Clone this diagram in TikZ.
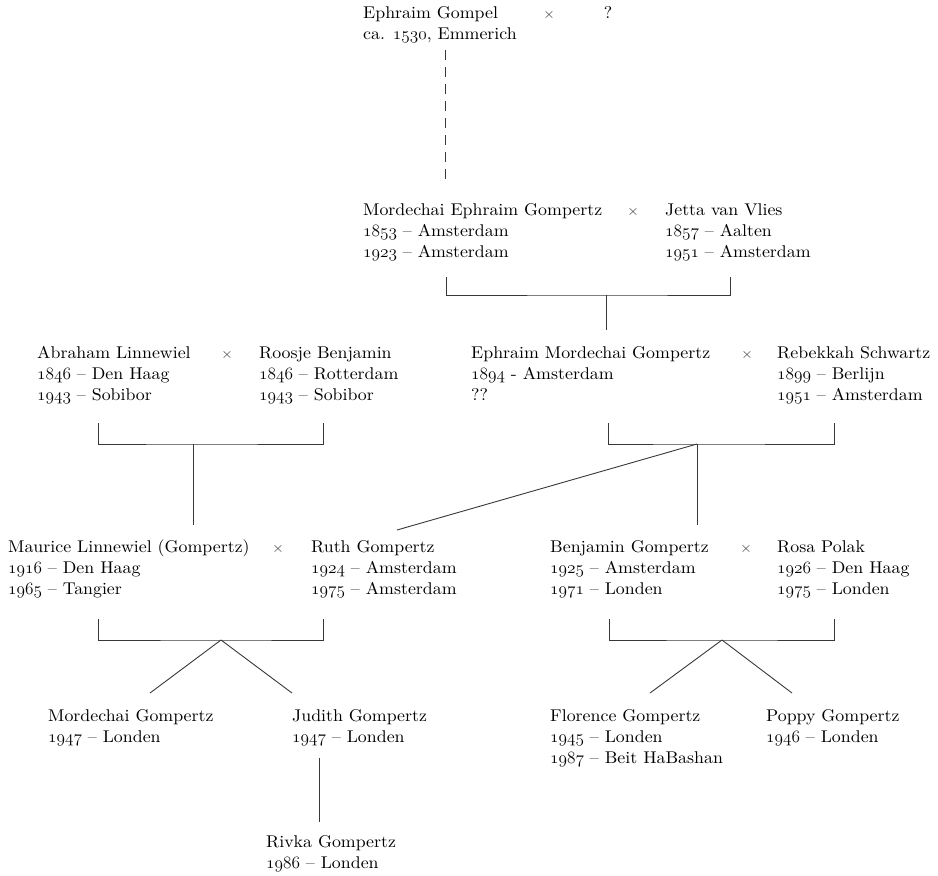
\documentclass[tikz,border=0pt]{standalone}
\usepackage{fontspec}
\setmainfont{lmroman10-regular.otf}[FakeStretch=1.05]
\newcommand\yr[1]{{\usefont{OML}{lmm}{m}{it}#1}}
\newcommand\lns[1]{\begin{tabular}[t]{@{}l@{}}#1\end{tabular}}
\tikzset{
  person/.style={anchor=base west, inner sep=0pt, font=\fontsize{17}{21.3}\selectfont, text=black},
  sym/.style={anchor=base, inner sep=0pt, font=\fontsize{14}{16}\selectfont, text=black!80},
  link/.style={draw=black!78, line width=0.9pt},
  dashlink/.style={link, dash pattern=on 10pt off 7pt},
}
\begin{document}
\begin{tikzpicture}[x=1pt,y=-1pt]
\useasboundingbox (0,0) rectangle (938,876);

% ---------- generation 0
\node[person] (ephraimG) at (363,18) {\lns{Ephraim Gompel\\ca. \yr{1530}, Emmerich}};
\node[sym] (x0) at (549,18) {×};
\node[person,anchor=base] (q0) at (608,18) {?};

% ---------- generation 1
\node[person] (mordE) at (363,215) {\lns{Mordechai Ephraim Gompertz\\\yr{1853} – Amsterdam\\\yr{1923} – Amsterdam}};
\node[sym] (x1) at (633,215) {×};
\node[person] (jetta) at (665,215) {\lns{Jetta van Vlies\\\yr{1857} – Aalten\\\yr{1951} – Amsterdam}};

% ---------- generation 2
\node[person] (abraham) at (37,358) {\lns{Abraham Linnewiel\\\yr{1846} – Den Haag\\\yr{1943} – Sobibor}};
\node[sym] (x2a) at (227,358) {×};
\node[person] (roosje) at (259,358) {\lns{Roosje Benjamin\\\yr{1846} – Rotterdam\\\yr{1943} – Sobibor}};
\node[person] (ephraimM) at (471,358) {\lns{Ephraim Mordechai Gompertz\\\yr{1894} - Amsterdam\\??}};
\node[sym] (x2b) at (747,358) {×};
\node[person] (rebekkah) at (777,358) {\lns{Rebekkah Schwartz\\\yr{1899} – Berlijn\\\yr{1951} – Amsterdam}};

% ---------- generation 3
\node[person] (maurice) at (8,552) {\lns{Maurice Linnewiel (Gompertz)\\\yr{1916} – Den Haag\\\yr{1965} – Tangier}};
\node[sym] (x3a) at (278,552) {×};
\node[person] (ruth) at (311,552) {\lns{Ruth Gompertz\\\yr{1924} – Amsterdam\\\yr{1975} – Amsterdam}};
\node[person] (benjamin) at (550,552) {\lns{Benjamin Gompertz\\\yr{1925} – Amsterdam\\\yr{1971} – Londen}};
\node[sym] (x3b) at (746,552) {×};
\node[person] (rosa) at (777,552) {\lns{Rosa Polak\\\yr{1926} – Den Haag\\\yr{1975} – Londen}};

% ---------- generation 4
\node[person] (mordG) at (48,721) {\lns{Mordechai Gompertz\\\yr{1947} – Londen}};
\node[person] (judith) at (292,721) {\lns{Judith Gompertz\\\yr{1947} – Londen}};
\node[person] (florence) at (550,721) {\lns{Florence Gompertz\\\yr{1945} – Londen\\\yr{1987} – Beit HaBashan}};
\node[person] (poppy) at (766,721) {\lns{Poppy Gompertz\\\yr{1946} – Londen}};

% ---------- generation 5
\node[person] (rivka) at (266,847) {\lns{Rivka Gompertz\\\yr{1986} – Londen}};

% ---------- connector points
\coordinate (d0a) at (445,50);
\coordinate (d0b) at (445,185);

\coordinate (b1l) at (446,277);
\coordinate (b1r) at (730,277);
\coordinate (b1c) at (606,295);
\coordinate (b1e) at (606,330);

\coordinate (b2ll) at (98,423);
\coordinate (b2lr) at (323,423);
\coordinate (b2lc) at (193,444);
\coordinate (b2le) at (193,525);

\coordinate (b2rl) at (608,423);
\coordinate (b2rr) at (834,423);
\coordinate (b2rc) at (697,444);
\coordinate (b2re) at (697,525);
\coordinate (b2rd) at (397,530);

\coordinate (b3ll) at (98,619);
\coordinate (b3lr) at (323,619);
\coordinate (b3lc) at (221,640);
\coordinate (b3la) at (150,693);
\coordinate (b3lb) at (292,693);

\coordinate (b3rl) at (609,619);
\coordinate (b3rr) at (834,619);
\coordinate (b3rc) at (722,640);
\coordinate (b3ra) at (650,693);
\coordinate (b3rb) at (792,693);

\coordinate (j4a) at (319,758);
\coordinate (j4b) at (319,822);

% ---------- connectors
\draw[dashlink] (d0a) -- (d0b);

\draw[link] (b1l) |- (b1c) -| (b1r);
\draw[link] (b1c) -- (b1e);

\draw[link] (b2ll) |- (b2lc) -| (b2lr);
\draw[link] (b2lc) -- (b2le);

\draw[link] (b2rl) |- (b2rc) -| (b2rr);
\draw[link] (b2rc) -- (b2re);
\draw[link] (b2rc) -- (b2rd);

\draw[link] (b3ll) |- (b3lc) -| (b3lr);
\draw[link] (b3lc) -- (b3la);
\draw[link] (b3lc) -- (b3lb);

\draw[link] (b3rl) |- (b3rc) -| (b3rr);
\draw[link] (b3rc) -- (b3ra);
\draw[link] (b3rc) -- (b3rb);

\draw[link] (j4a) -- (j4b);
\end{tikzpicture}
\end{document}
